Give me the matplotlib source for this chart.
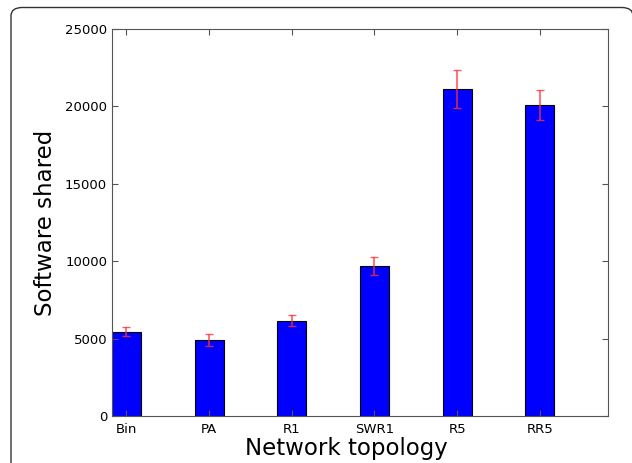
import matplotlib
matplotlib.use("Agg")
import matplotlib.pyplot as plt
from matplotlib.patches import FancyBboxPatch

topologies = ["Bin", "PA", "R1", "SWR1", "R5", "RR5"]
shared = [5450, 4930, 6160, 9690, 21100, 20090]
errors = [270, 380, 345, 580, 1230, 970]

fig = plt.figure(figsize=(6.32, 4.63), dpi=100)
ax = fig.add_axes([112 / 632, 1 - 416 / 463, 496 / 632, 387 / 463])

# rounded frame around the figure (cropped at the bottom/right)
frame = FancyBboxPatch((11 / 632, -0.2), (633 - 11) / 632, 1.2 - 7.5 / 463,
                       boxstyle="round,pad=0,rounding_size=0.018",
                       transform=fig.transFigure, fill=False,
                       edgecolor="#333333", linewidth=1.0, clip_on=False)
fig.patches.append(frame)

width = 0.35
pos = list(range(len(topologies)))
ax.bar(pos, shared, width, align="edge", color="#0000ff", edgecolor="black",
       linewidth=0.8)
ax.errorbar([p + width / 2 for p in pos], shared, yerr=errors, fmt="none",
            ecolor="#ff3333", alpha=0.8, capsize=3, elinewidth=1.2, capthick=1)

ax.set_xlim(0, 6)
ax.set_ylim(0, 25000)
ax.set_xticks([p + width / 2 for p in pos])
ax.set_xticklabels(topologies)
ax.set_yticks(range(0, 25001, 5000))
ax.tick_params(direction="in", top=True, right=True, labelsize=9.5, length=4,
               color="#555555")
ax.tick_params(axis="x", pad=5)
for s in ax.spines.values():
    s.set_color("#555555")

ax.set_xlabel("Network topology", fontsize=16.5, labelpad=1)
ax.xaxis.label.set_x(0.472)
ax.set_ylabel("Software shared", fontsize=16.5, labelpad=6)

fig.savefig("out.png", dpi=100)
